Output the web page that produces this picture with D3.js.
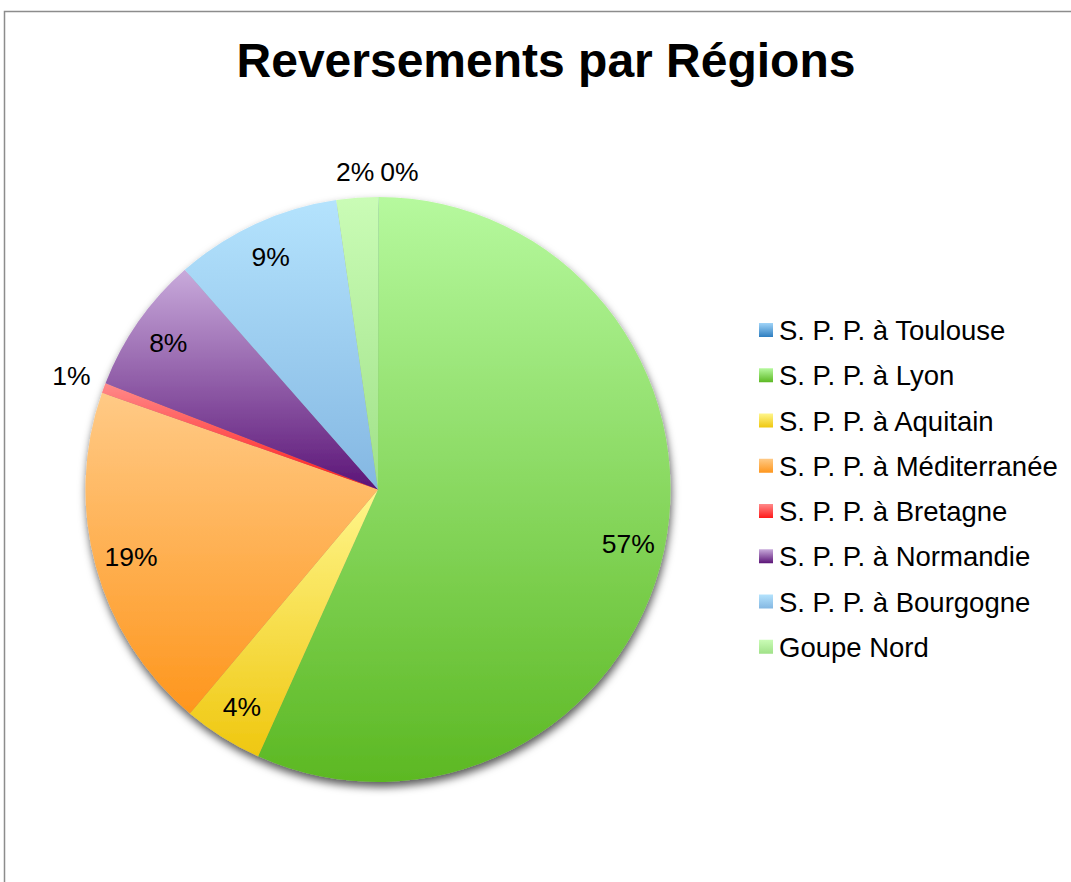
<!DOCTYPE html>
<html>
<head>
<meta charset="utf-8">
<script src="https://cdn.jsdelivr.net/npm/d3@7"></script>
<style>
  html, body { margin: 0; padding: 0; background: #fff; }
  svg { display: block; font-family: "Liberation Sans", Arial, sans-serif; }
</style>
</head>
<body>
<svg id="chart" width="1071" height="882"></svg>
<script>
const title = "Reversements par Régions";
const categories = [
  "S. P. P. à Toulouse",
  "S. P. P. à Lyon",
  "S. P. P. à Aquitain",
  "S. P. P. à Méditerranée",
  "S. P. P. à Bretagne",
  "S. P. P. à Normandie",
  "S. P. P. à Bourgogne",
  "Goupe Nord"
];
const values = [0.02, 56.7, 4.4, 19.25, 0.55, 7.6, 9.2, 2.28];
const colorsTop    = ["#a0d4f8", "#b6f99e", "#fff68c", "#ffca86", "#ff8a8a", "#c8aadb", "#b4e3fd", "#cafcb6"];
const colorsBottom = ["#2e7ec0", "#5cb823", "#efc70f", "#fe961d", "#ff1a1a", "#5b1477", "#84b7e2", "#a0e188"];

const W = 1071, H = 882;
const svg = d3.select("#chart");
const defs = svg.append("defs");

categories.forEach((c, i) => {
  const g = defs.append("linearGradient")
    .attr("id", "grad" + i)
    .attr("x1", 0).attr("y1", 0).attr("x2", 0).attr("y2", 1);
  g.append("stop").attr("offset", "0%").attr("stop-color", colorsTop[i]);
  g.append("stop").attr("offset", "100%").attr("stop-color", colorsBottom[i]);
});

const filt = defs.append("filter").attr("id", "shadow")
  .attr("x", "-10%").attr("y", "-10%").attr("width", "120%").attr("height", "120%");
filt.append("feDropShadow").attr("dx", 1).attr("dy", 5).attr("stdDeviation", 4)
  .attr("flood-color", "#000").attr("flood-opacity", 0.65);

// frame
svg.append("rect")
  .attr("x", 4.5).attr("y", 11.5).attr("width", 1200).attr("height", 1000)
  .attr("fill", "#fff").attr("stroke", "#8c8c8c").attr("stroke-width", 1.5);

// title
svg.append("text")
  .attr("x", 546).attr("y", 77)
  .attr("text-anchor", "middle")
  .attr("font-size", 48).attr("font-weight", "bold").attr("fill", "#000")
  .text(title);

const cx = 378, cy = 489.5, R = 292.5;
const total = d3.sum(values);
const pie = d3.pie().sort(null).value(d => d)(values);
const arc = d3.arc().innerRadius(0).outerRadius(R);

const g = svg.append("g").attr("transform", `translate(${cx},${cy})`);
const slices = g.append("g").attr("filter", "url(#shadow)");
slices.selectAll("path")
  .data(pie)
  .join("path")
  .attr("d", arc)
  .attr("fill", (d, i) => `url(#grad${i})`);

// labels
const fmt = v => Math.round(v / total * 100) + "%";
const labelFont = 26.5;
const labelsG = g.append("g");
const placed = [];
pie.forEach((d, i) => {
  const mid = (d.startAngle + d.endAngle) / 2;
  const pct = d.value / total * 100;
  const t = labelsG.append("text")
    .attr("font-size", labelFont).attr("fill", "#000")
    .attr("text-anchor", "middle").attr("dy", "0.35em")
    .text(fmt(d.value));
  const bb = t.node().getBBox();
  const hw = bb.width / 2, hh = bb.height / 2 - 2;
  let x, y;
  if (pct >= 3) {
    const r = 256;
    x = r * Math.sin(mid); y = -r * Math.cos(mid);
  } else {
    const r = R + 12 + hw * Math.abs(Math.sin(mid)) + hh * Math.abs(Math.cos(mid));
    x = r * Math.sin(mid); y = -r * Math.cos(mid);
  }
  placed.push({x, y, hw, hh, node: t.node()});
});
// collision avoidance: the label with the larger natural x is pushed right
const order = placed.slice().sort((a, b) => a.x - b.x);
for (let i = 0; i < order.length; i++) {
  for (let j = 0; j < i; j++) {
    const a = order[i], b = order[j];
    if (Math.abs(a.y - b.y) < a.hh + b.hh && a.x - a.hw < b.x + b.hw + 6) {
      a.x = b.x + b.hw + 6 + a.hw;
    }
  }
}
placed.forEach(p => d3.select(p.node).attr("x", p.x).attr("y", p.y));

// legend
const legend = svg.append("g");
const lx = 759, ly0 = 340, step = 45.25;
categories.forEach((c, i) => {
  const y = ly0 + i * step;
  legend.append("rect")
    .attr("x", lx).attr("y", y - 17).attr("width", 14).attr("height", 14)
    .attr("fill", `url(#grad${i})`);
  legend.append("text")
    .attr("x", lx + 20).attr("y", y)
    .attr("font-size", 27.5).attr("fill", "#000")
    .text(c);
});
</script>
</body>
</html>
